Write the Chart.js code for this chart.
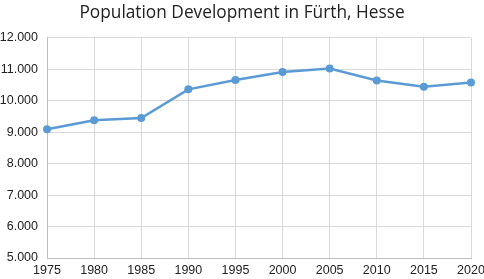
<!DOCTYPE html>
<html>
<head>
<meta charset="UTF-8">
<script src="https://cdn.jsdelivr.net/npm/chart.js@4"></script>
<style>
  html, body { margin: 0; padding: 0; background: #fff; }
  #wrap { width: 484px; height: 279px; }
</style>
</head>
<body>
<div id="wrap"><canvas id="pop-chart"></canvas></div>
<script>
    // years and inhabitants
    var years = ["1975", "1980", "1985", "1990", "1995", "2000", "2005", "2010", "2015", "2020"];
    var population = [9090, 9380, 9450, 10360, 10660, 10910, 11020, 10640, 10440, 10580];
    var yTicks = [5000, 6000, 7000, 8000, 9000, 10000, 11000, 12000];

    function fmt(v) {
        return String(v).replace(/\B(?=(\d{3})+(?!\d))/g, ".");
    }

    var ctx = document.getElementById("pop-chart").getContext("2d");
    var popChart = new Chart(ctx, {
        type: 'line',
        data: {
            labels: years,
            datasets: [{
                data: population,
                borderColor: "#5b9bd5",
                backgroundColor: "#5b9bd5",
                borderWidth: 2.5,
                pointRadius: 4,
                pointBackgroundColor: "#5b9bd5",
                pointBorderWidth: 0,
                tension: 0,
                fill: false
            }]
        },
        options: {
            responsive: true,
            maintainAspectRatio: false,
            animation: false,
            layout: { padding: { left: 0, right: 0, top: 0, bottom: 0 } },
            plugins: {
                legend: { display: false },
                tooltip: { enabled: false },
                title: {
                    display: true,
                    text: "Population Development in Fürth, Hesse",
                    color: "#222",
                    font: { family: "Open Sans", size: 17.3, weight: "normal" },
                    padding: { top: 3, bottom: 14 }
                }
            },
            scales: {
                x: {
                    grid: { color: "#d9d9d9", drawTicks: false },
                    border: { color: "#bfbfbf" },
                    afterFit: function (axis) {
                        axis.height = 21;
                        axis.paddingRight = 13;
                    },
                    ticks: {
                        color: "#222",
                        font: { family: "Liberation Sans", size: 12.5 },
                        maxRotation: 0,
                        padding: 5
                    }
                },
                y: {
                    min: 5000,
                    max: 12000,
                    afterBuildTicks: function (axis) {
                        axis.ticks = yTicks.map(function (v) { return { value: v }; });
                    },
                    afterFit: function (axis) { axis.width = 47; },
                    grid: { color: "#d9d9d9", drawTicks: false },
                    border: { color: "#bfbfbf" },
                    ticks: {
                        color: "#222",
                        font: { family: "Liberation Sans", size: 12.5 },
                        padding: 9,
                        callback: function (v) { return fmt(v); }
                    }
                }
            }
        }
    });
</script>
</body>
</html>
